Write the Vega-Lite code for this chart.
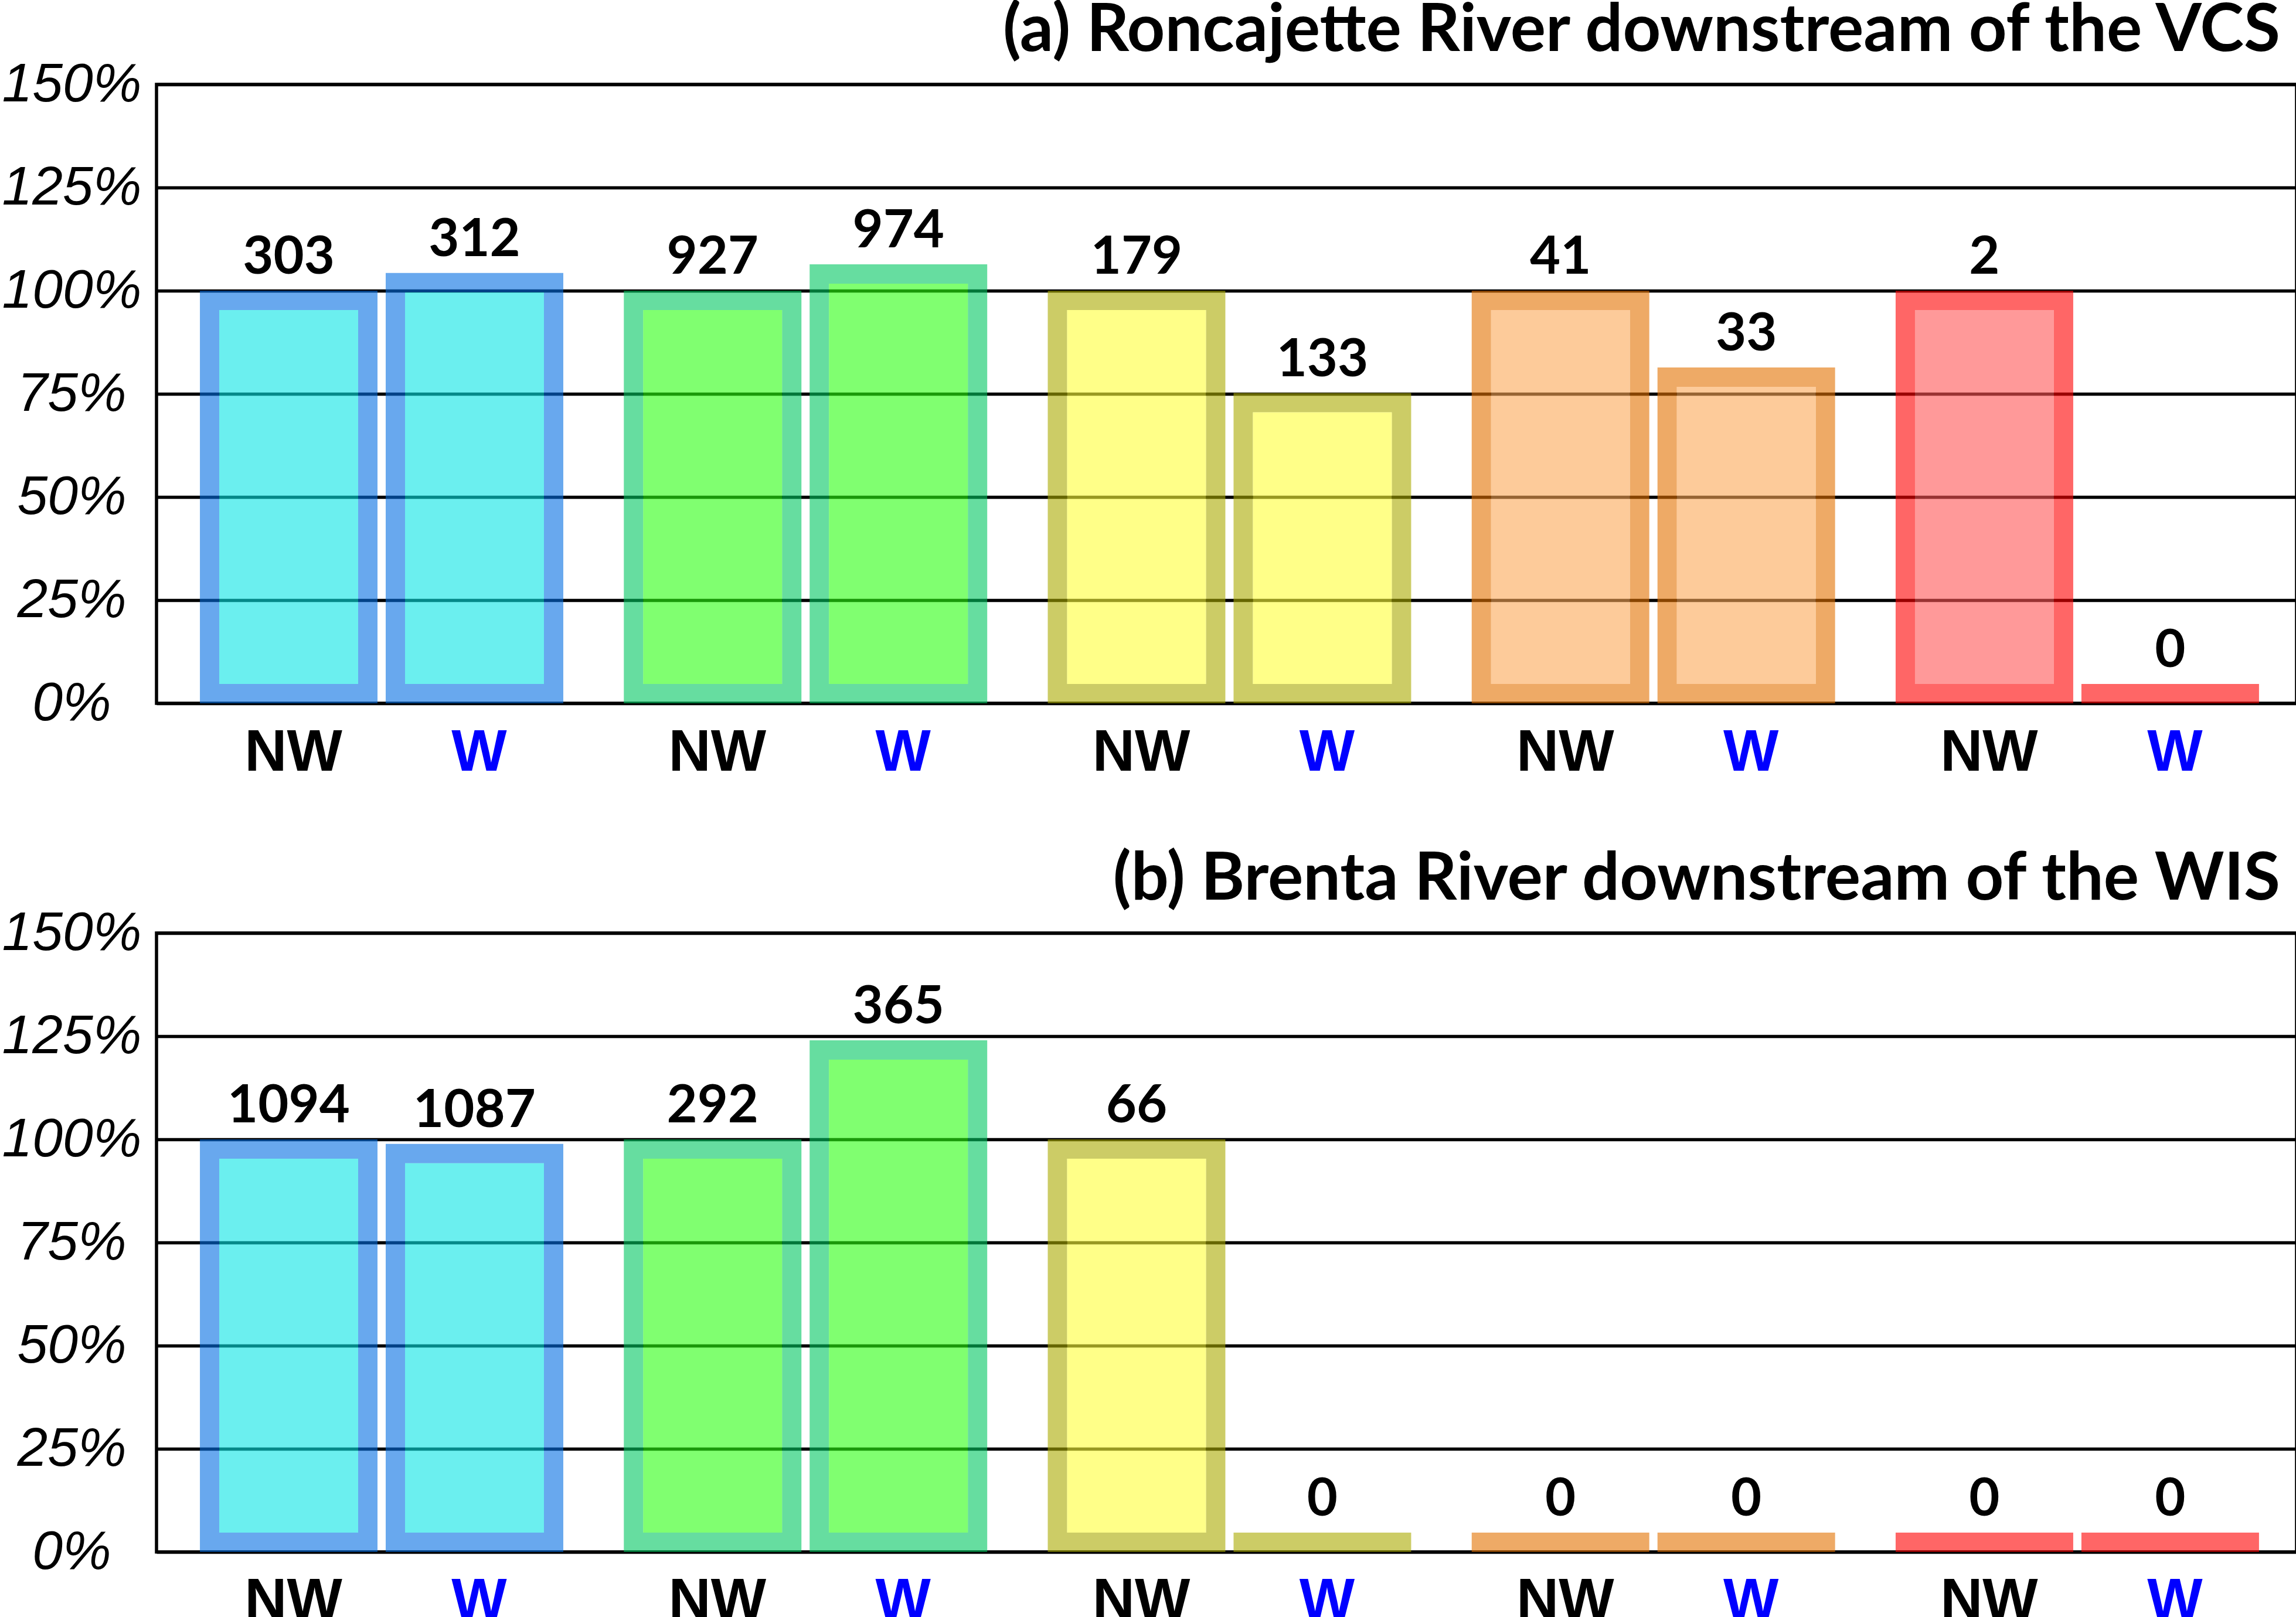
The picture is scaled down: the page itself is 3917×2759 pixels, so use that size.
{
  "$schema": "https://vega.github.io/schema/vega-lite/v6.json",
  "background": "white",
  "padding": {"left": 0, "top": -6, "right": 0, "bottom": 0},
  "bounds": "flush",
  "spacing": 392,
  "datasets": {
    "d": [
      {"panel": "a", "group": "C1", "t": "NW", "pct": 100, "n": 303},
      {"panel": "a", "group": "C1", "t": "W", "pct": 104.3, "n": 312},
      {"panel": "a", "group": "C2", "t": "NW", "pct": 100, "n": 927},
      {"panel": "a", "group": "C2", "t": "W", "pct": 106.4, "n": 974},
      {"panel": "a", "group": "C3", "t": "NW", "pct": 100, "n": 179},
      {"panel": "a", "group": "C3", "t": "W", "pct": 75.2, "n": 133},
      {"panel": "a", "group": "C4", "t": "NW", "pct": 100, "n": 41},
      {"panel": "a", "group": "C4", "t": "W", "pct": 81.4, "n": 33},
      {"panel": "a", "group": "C5", "t": "NW", "pct": 100, "n": 2},
      {"panel": "a", "group": "C5", "t": "W", "pct": 0, "n": 0},
      {"panel": "b", "group": "C1", "t": "NW", "pct": 100, "n": 1094},
      {"panel": "b", "group": "C1", "t": "W", "pct": 98.9, "n": 1087},
      {"panel": "b", "group": "C2", "t": "NW", "pct": 100, "n": 292},
      {"panel": "b", "group": "C2", "t": "W", "pct": 124, "n": 365},
      {"panel": "b", "group": "C3", "t": "NW", "pct": 100, "n": 66},
      {"panel": "b", "group": "C3", "t": "W", "pct": 0, "n": 0},
      {"panel": "b", "group": "C4", "t": "NW", "pct": 0, "n": 0},
      {"panel": "b", "group": "C4", "t": "W", "pct": 0, "n": 0},
      {"panel": "b", "group": "C5", "t": "NW", "pct": 0, "n": 0},
      {"panel": "b", "group": "C5", "t": "W", "pct": 0, "n": 0}
    ]
  },
  "config": {
    "view": {"stroke": "black", "strokeWidth": 5.5}
  },
  "vconcat": [
    {
      "width": 3651, "height": 1056,
      "title": {"text": "(a) Roncajette River downstream of the VCS", "anchor": "end", "frame": "group", "font": "Lato", "fontWeight": "bold", "fontSize": 113, "color": "black", "baseline": "alphabetic", "offset": -102, "dx": -28},
      "data": {"name": "d"},
      "transform": [{"filter": "datum.panel == 'a'"}],
      "encoding": {
        "x": {"field": "group", "type": "nominal", "axis": null, "scale": {"type": "band", "paddingInner": 0.1428, "paddingOuter": 0.0955, "align": 0.536}}
      },
      "layer": [
        {
          "mark": {"type": "bar", "filled": false, "strokeWidth": 33, "yOffset": 16.5, "y2Offset": -16.5, "clip": true},
          "encoding": {
            "xOffset": {"field": "t", "type": "nominal", "scale": {"type": "band", "paddingInner": 0.1483, "paddingOuter": 0.0521}},
            "y": {"field": "pct", "type": "quantitative", "scale": {"domain": [0, 150], "nice": false},
              "axis": {"values": [0, 25, 50, 75, 100, 125, 150], "labelExpr": "datum.value + '%'", "grid": true, "gridColor": "black", "gridWidth": 5.5, "gridOpacity": 1, "domain": false, "ticks": false, "tickSize": 0, "labelFont": "Liberation Sans", "labelFontStyle": "italic", "labelFontSize": 93, "labelColor": "black", "labelAlign": "center", "labelBaseline": "middle", "labelPadding": 145, "labelOverlap": false, "labelBound": false, "labelFlush": false, "labelLimit": 0, "title": null}},
            "y2": {"datum": 0},
            "stroke": {"field": "group", "type": "nominal", "legend": null, "scale": {"domain": ["C1", "C2", "C3", "C4", "C5"], "range": ["rgba(3,110,227,0.6)", "rgba(0,198,97,0.6)", "rgba(170,170,0,0.6)", "rgba(227,113,0,0.6)", "rgba(255,0,0,0.6)"]}}
          }
        },
        {
          "transform": [{"filter": "datum.pct > 0"}],
          "mark": {"type": "bar", "strokeWidth": 0, "yOffset": 33, "y2Offset": -33, "clip": true},
          "encoding": {
            "xOffset": {"field": "t", "type": "nominal", "scale": {"type": "band", "paddingInner": 0.2524, "paddingOuter": 0.1041}},
            "y": {"field": "pct", "type": "quantitative"},
            "y2": {"datum": 0},
            "fill": {"field": "group", "type": "nominal", "legend": null, "scale": {"domain": ["C1", "C2", "C3", "C4", "C5"], "range": ["rgba(8,228,228,0.6)", "rgba(43,255,17,0.6)", "rgba(255,255,57,0.6)", "rgba(252,168,87,0.6)", "rgba(255,85,85,0.6)"]}}
          }
        },
        {
          "mark": {"type": "text", "font": "Lato", "fontWeight": "bold", "fontSize": 90, "color": "black", "baseline": "alphabetic", "align": "center", "dy": {"expr": "datum.pct == 0 ? -62 : -29"}},
          "encoding": {
            "xOffset": {"field": "t", "type": "nominal", "scale": {"type": "band", "paddingInner": 0.0442, "paddingOuter": 0}},
            "y": {"field": "pct", "type": "quantitative"},
            "text": {"field": "n", "type": "quantitative"}
          }
        },
        {
          "mark": {"type": "text", "font": "Liberation Sans", "fontWeight": "bold", "fontSize": 100, "baseline": "alphabetic", "align": "center", "dy": 115, "dx": 8},
          "encoding": {
            "xOffset": {"field": "t", "type": "nominal", "scale": {"type": "band", "paddingInner": 0.0442, "paddingOuter": 0}},
            "y": {"datum": 0, "type": "quantitative"},
            "text": {"field": "t", "type": "nominal"},
            "color": {"condition": {"test": "datum.t == 'W'", "value": "#0000FF"}, "value": "black"}
          }
        }
      ],
      "resolve": {"scale": {"xOffset": "independent"}}
    },
    {
      "width": 3651, "height": 1056,
      "title": {"text": "(b) Brenta River downstream of the WIS", "anchor": "end", "frame": "group", "font": "Lato", "fontWeight": "bold", "fontSize": 113, "color": "black", "baseline": "alphabetic", "offset": -102, "dx": -28},
      "data": {"name": "d"},
      "transform": [{"filter": "datum.panel == 'b'"}],
      "encoding": {
        "x": {"field": "group", "type": "nominal", "axis": null, "scale": {"type": "band", "paddingInner": 0.1428, "paddingOuter": 0.0955, "align": 0.536}}
      },
      "layer": [
        {
          "mark": {"type": "bar", "filled": false, "strokeWidth": 33, "yOffset": 16.5, "y2Offset": -16.5, "clip": true},
          "encoding": {
            "xOffset": {"field": "t", "type": "nominal", "scale": {"type": "band", "paddingInner": 0.1483, "paddingOuter": 0.0521}},
            "y": {"field": "pct", "type": "quantitative", "scale": {"domain": [0, 150], "nice": false},
              "axis": {"values": [0, 25, 50, 75, 100, 125, 150], "labelExpr": "datum.value + '%'", "grid": true, "gridColor": "black", "gridWidth": 5.5, "gridOpacity": 1, "domain": false, "ticks": false, "tickSize": 0, "labelFont": "Liberation Sans", "labelFontStyle": "italic", "labelFontSize": 93, "labelColor": "black", "labelAlign": "center", "labelBaseline": "middle", "labelPadding": 145, "labelOverlap": false, "labelBound": false, "labelFlush": false, "labelLimit": 0, "title": null}},
            "y2": {"datum": 0},
            "stroke": {"field": "group", "type": "nominal", "legend": null, "scale": {"domain": ["C1", "C2", "C3", "C4", "C5"], "range": ["rgba(3,110,227,0.6)", "rgba(0,198,97,0.6)", "rgba(170,170,0,0.6)", "rgba(227,113,0,0.6)", "rgba(255,0,0,0.6)"]}}
          }
        },
        {
          "transform": [{"filter": "datum.pct > 0"}],
          "mark": {"type": "bar", "strokeWidth": 0, "yOffset": 33, "y2Offset": -33, "clip": true},
          "encoding": {
            "xOffset": {"field": "t", "type": "nominal", "scale": {"type": "band", "paddingInner": 0.2524, "paddingOuter": 0.1041}},
            "y": {"field": "pct", "type": "quantitative"},
            "y2": {"datum": 0},
            "fill": {"field": "group", "type": "nominal", "legend": null, "scale": {"domain": ["C1", "C2", "C3", "C4", "C5"], "range": ["rgba(8,228,228,0.6)", "rgba(43,255,17,0.6)", "rgba(255,255,57,0.6)", "rgba(252,168,87,0.6)", "rgba(255,85,85,0.6)"]}}
          }
        },
        {
          "mark": {"type": "text", "font": "Lato", "fontWeight": "bold", "fontSize": 90, "color": "black", "baseline": "alphabetic", "align": "center", "dy": {"expr": "datum.pct == 0 ? -62 : -29"}},
          "encoding": {
            "xOffset": {"field": "t", "type": "nominal", "scale": {"type": "band", "paddingInner": 0.0442, "paddingOuter": 0}},
            "y": {"field": "pct", "type": "quantitative"},
            "text": {"field": "n", "type": "quantitative"}
          }
        },
        {
          "mark": {"type": "text", "font": "Liberation Sans", "fontWeight": "bold", "fontSize": 100, "baseline": "alphabetic", "align": "center", "dy": 115, "dx": 8},
          "encoding": {
            "xOffset": {"field": "t", "type": "nominal", "scale": {"type": "band", "paddingInner": 0.0442, "paddingOuter": 0}},
            "y": {"datum": 0, "type": "quantitative"},
            "text": {"field": "t", "type": "nominal"},
            "color": {"condition": {"test": "datum.t == 'W'", "value": "#0000FF"}, "value": "black"}
          }
        }
      ],
      "resolve": {"scale": {"xOffset": "independent"}}
    }
  ]
}
